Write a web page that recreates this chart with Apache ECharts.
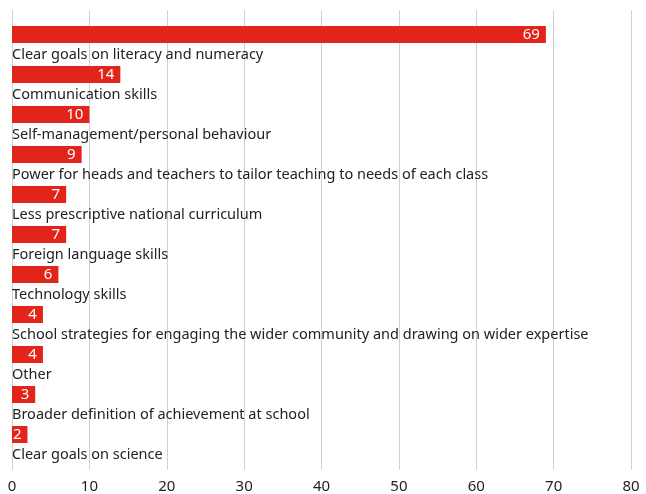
<!DOCTYPE html>
<html><head><meta charset="utf-8">
<script src="https://cdn.jsdelivr.net/npm/echarts@6/dist/echarts.min.js"></script>
<style>html,body{margin:0;padding:0;background:#fff}#c{width:646px;height:494px}</style>
</head><body><div id="c"></div>
<script>
const categories = [
  "Clear goals on literacy and numeracy",
  "Communication skills",
  "Self-management/personal behaviour",
  "Power for heads and teachers to tailor teaching to needs of each class",
  "Less prescriptive national curriculum",
  "Foreign language skills",
  "Technology skills",
  "School strategies for engaging the wider community and drawing on wider expertise",
  "Other",
  "Broader definition of achievement at school",
  "Clear goals on science"
];
const values = [69, 14, 10, 9, 7, 7, 6, 4, 4, 3, 2];
const xTicks = [0, 10, 20, 30, 40, 50, 60, 70, 80];

const FONT = "Noto Sans";
const chart = echarts.init(document.getElementById('c'));
chart.setOption({
  animation: false,
  textStyle: {fontFamily: FONT},
  grid: [
    {left: 12, right: 15, top: 10, bottom: 22, containLabel: false},
    {left: 12, right: 15, top: 14.5, height: 440, containLabel: false}
  ],
  xAxis: [
    {gridIndex: 0, type: 'value', min: xTicks[0], max: xTicks[xTicks.length-1], interval: 10,
     axisLine: {show: false}, axisTick: {show: false},
     splitLine: {show: true, lineStyle: {color: '#d0d0d0', width: 1}},
     axisLabel: {color: '#222', fontSize: 15, fontFamily: FONT, margin: 9}},
    {gridIndex: 1, type: 'value', min: xTicks[0], max: xTicks[xTicks.length-1], show: false}
  ],
  yAxis: [
    {gridIndex: 0, type: 'value', show: false},
    {gridIndex: 1, type: 'category', data: categories, inverse: true,
     axisLine: {show: false}, axisTick: {show: false}, splitLine: {show: false},
     axisLabel: {inside: true, margin: 0, color: '#222', fontSize: 14.5, fontFamily: FONT,
                 verticalAlign: 'top', padding: [13, 0, 0, 0]}}
  ],
  series: [{
    type: 'bar', xAxisIndex: 1, yAxisIndex: 1, data: values, barWidth: 17,
    itemStyle: {color: '#e3241b'},
    label: {show: true, position: 'insideRight', distance: 6, color: '#fff', fontSize: 15, fontFamily: FONT},
    z: 3
  }]
});
</script></body></html>
